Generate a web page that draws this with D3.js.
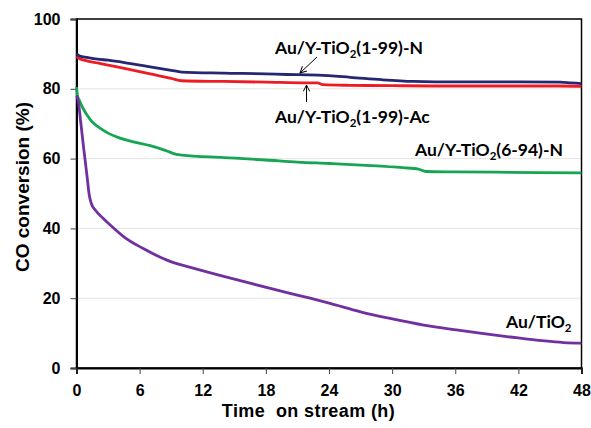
<!DOCTYPE html>
<html>
<head>
<meta charset="utf-8">
<script src="https://cdn.jsdelivr.net/npm/d3@7"></script>
<style>
  body { margin: 0; background: #fff; }
  svg { display: block; }
  text { font-family: "Liberation Sans", Arial, sans-serif; font-weight: bold; fill: #000; }
  .lbl { font-family: "Lato", "Open Sans", sans-serif; font-weight: bold; }
</style>
</head>
<body>
<svg id="chart" width="591" height="428"></svg>
<script>
const xTicks = [0, 6, 12, 18, 24, 30, 36, 42, 48];
const yTicks = [0, 20, 40, 60, 80, 100];

const seriesNames = ["Au/Y-TiO2(1-99)-N", "Au/Y-TiO2(1-99)-Ac", "Au/Y-TiO2(6-94)-N", "Au/TiO2"];
const seriesColors = ["#262673", "#ed1c24", "#16a552", "#7030a0"];

const blueT = [0, 0.3, 1, 2, 3, 5, 7, 9, 10, 14, 18, 20, 22, 23, 26, 29, 32, 34, 38, 42, 46, 47, 48];
const blueV = [90.0, 89.4, 89.0, 88.5, 88.2, 87.3, 86.3, 85.3, 84.8, 84.5, 84.3, 84.1, 84.0, 83.9, 83.3, 82.6, 82.1, 82.0, 82.0, 82.0, 81.9, 81.7, 81.5];

const redT = [0, 0.3, 1, 2, 3, 5, 7, 9, 10, 14, 18, 22, 22.9, 23.4, 26, 30, 34, 38, 42, 46, 48];
const redV = [89.2, 88.6, 88.0, 87.4, 86.8, 85.6, 84.3, 83.0, 82.3, 82.1, 81.9, 81.7, 81.7, 81.2, 81.0, 80.9, 80.8, 80.8, 80.8, 80.8, 80.7];

const greenT = [0, 0.1, 0.3, 0.6, 1, 1.5, 2.2, 3, 4, 5.4, 7, 8.5, 9.5, 10, 14, 18, 21, 24, 28, 31, 32.5, 33.2, 36, 40, 44, 48];
const greenV = [80.5, 78.0, 76.5, 74.5, 72.5, 70.5, 68.8, 67.3, 66.0, 64.8, 63.7, 62.3, 61.2, 61.0, 60.3, 59.6, 59.0, 58.6, 58.0, 57.4, 57.0, 56.3, 56.2, 56.1, 56.0, 55.9];

const purpleT = [0, 0.15, 0.4, 0.7, 1.0, 1.2, 1.4, 1.8, 2.5, 3.2, 4.5, 6.3, 8.6, 11.7, 16.5, 20.3, 22.2, 24.1, 27, 29.8, 33, 36.1, 40.9, 46.3, 48];
const purpleV = [78.0, 76.8, 70.5, 62.5, 55.0, 49.8, 47.2, 45.2, 43.0, 41.0, 37.6, 34.3, 30.9, 28.1, 24.3, 21.4, 20.0, 18.5, 16.1, 14.2, 12.3, 10.9, 9.0, 7.3, 7.1];

const svg = d3.select("#chart");
const mLeft = 76.5, mRight = 581.5, mTop = 19, mBottom = 368;

const x = d3.scaleLinear().domain([0, 48]).range([mLeft, mRight]);
const y = d3.scaleLinear().domain([0, 100]).range([mBottom, mTop]);

// gridlines
svg.append("g").selectAll("line")
  .data(yTicks.filter(d => d > 0 && d < 100))
  .join("line")
  .attr("x1", mLeft).attr("x2", mRight)
  .attr("y1", d => y(d)).attr("y2", d => y(d))
  .attr("stroke", "#e4e4e4").attr("stroke-width", 1);

// box border
svg.append("rect")
  .attr("x", mLeft).attr("y", mTop)
  .attr("width", mRight - mLeft).attr("height", mBottom - mTop)
  .attr("fill", "none").attr("stroke", "#000").attr("stroke-width", 1.5);

// axes
const yAxis = d3.axisLeft(y).tickValues(yTicks).tickSize(6).tickPadding(10).tickFormat(d3.format("d"));
const gy = svg.append("g").attr("transform", `translate(${mLeft},0)`).call(yAxis);
const xAxis = d3.axisBottom(x).tickValues(xTicks).tickSize(6).tickPadding(10.5).tickFormat(d3.format("d"));
const gx = svg.append("g").attr("transform", `translate(0,${mBottom})`).call(xAxis);
[gy, gx].forEach(g => {
  g.select(".domain").attr("stroke", "#000").attr("stroke-width", 2);
  g.selectAll(".tick line").attr("stroke", "#444").attr("stroke-width", 1);
  g.selectAll(".tick text").style("font-size", "16px").style("font-weight", "bold")
    .style("font-family", '"Liberation Sans", Arial, sans-serif').attr("fill", "#000");
});

// lines
const data = [
  blueT.map((t, i) => [t, blueV[i]]),
  redT.map((t, i) => [t, redV[i]]),
  greenT.map((t, i) => [t, greenV[i]]),
  purpleT.map((t, i) => [t, purpleV[i]])
];
const line = d3.line().x(d => x(d[0])).y(d => y(d[1])).curve(d3.curveMonotoneX);
const drawOrder = [2, 3, 1, 0];
drawOrder.forEach(i => {
  svg.append("path").datum(data[i])
    .attr("d", line)
    .attr("fill", "none")
    .attr("stroke", seriesColors[i])
    .attr("stroke-width", 2.8)
    .attr("stroke-linejoin", "round");
});

// axis titles
svg.append("text").attr("x", 308.5).attr("y", 416.5).attr("text-anchor", "middle")
  .style("font-size", "18px").style("letter-spacing", "0.4px").style("white-space", "pre").attr("xml:space", "preserve")
  .text("Time  on stream (h)");
svg.append("text").attr("transform", "translate(29,187) rotate(-90)").attr("text-anchor", "middle")
  .style("font-size", "19px").text("CO conversion (%)");

// series labels with subscripts
function label(xp, yp, pre, post) {
  const t = svg.append("text").attr("class", "lbl").attr("x", xp).attr("y", yp).style("font-size", "17.5px");
  t.append("tspan").text(pre);
  t.append("tspan").attr("dy", 4).style("font-size", "11.5px").text("2");
  t.append("tspan").attr("dy", -4).text(post);
  return t;
}
label(275, 54, "Au/Y-TiO", "(1-99)-N");
label(275, 123, "Au/Y-TiO", "(1-99)-Ac");
label(415, 156, "Au/Y-TiO", "(6-94)-N");
label(506, 328, "Au/TiO", "");

// arrows
const defs = svg.append("defs");
defs.append("marker").attr("id", "arr").attr("viewBox", "0 0 10 10")
  .attr("refX", 9).attr("refY", 5).attr("markerWidth", 8).attr("markerHeight", 8)
  .attr("orient", "auto-start-reverse")
  .append("path").attr("d", "M1,1 L9,5 L1,9").attr("fill", "none").attr("stroke", "#000").attr("stroke-width", 1.2);
svg.append("line").attr("x1", 317).attr("y1", 57).attr("x2", 300).attr("y2", 73)
  .attr("stroke", "#000").attr("stroke-width", 1).attr("marker-end", "url(#arr)");
svg.append("line").attr("x1", 306.5).attr("y1", 102).attr("x2", 306.5).attr("y2", 85)
  .attr("stroke", "#000").attr("stroke-width", 1).attr("marker-end", "url(#arr)");
</script>
</body>
</html>
